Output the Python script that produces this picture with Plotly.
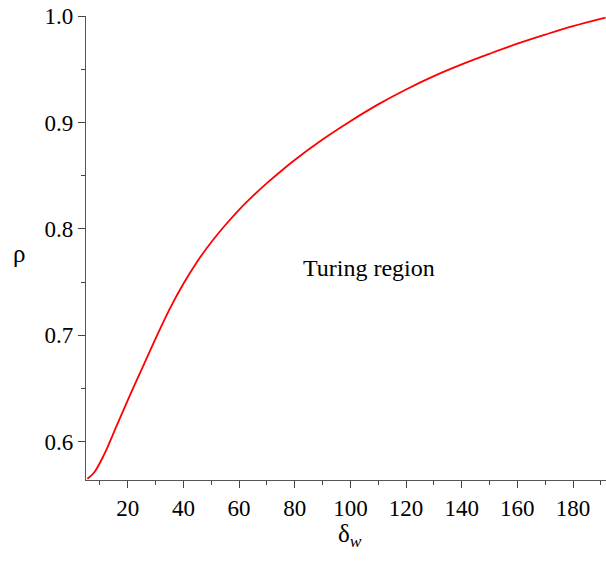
import plotly.graph_objects as go

delta_w = [5.5, 8, 11.5, 16, 21, 25, 30, 35, 40, 45, 50, 55, 60, 65, 70, 80, 90, 100,
           110, 120, 130, 140, 150, 160, 170, 180, 191.7]
rho = [0.5653, 0.5715, 0.588, 0.615, 0.645, 0.668, 0.697, 0.7245, 0.7485, 0.7695, 0.7875,
       0.8035, 0.818, 0.831, 0.843, 0.8648, 0.884, 0.9012, 0.917, 0.931, 0.9435,
       0.9545, 0.9645, 0.974, 0.9825, 0.9905, 0.9985]

x_ticks = [20, 40, 60, 80, 100, 120, 140, 160, 180]
y_ticks = [0.6, 0.7, 0.8, 0.9, 1.0]
y_tick_labels = ["0.6", "0.7", "0.8", "0.9", "1.0"]

FONT = "Times New Roman, Liberation Serif, serif"

fig = go.Figure()
fig.add_trace(go.Scatter(x=delta_w, y=rho, mode="lines",
                         line=dict(color="#ff0000", width=1.8, shape="spline", smoothing=1.0),
                         showlegend=False, hoverinfo="skip"))

axis_common = dict(showgrid=False, zeroline=False, showline=True, linecolor="#555555",
                   linewidth=1.2, ticks="outside", ticklen=7, tickwidth=1.2,
                   tickcolor="#444444", tickfont=dict(family=FONT, size=23, color="#000000"),
                   mirror=False)

W, H = 606, 566
L, R, T, B = 86, 0, 16, 86
pw, ph = W - L - R, H - T - B

def px_to_paper(px, py):
    return (px - L) / pw, (H - B - py) / ph

rx, ry = px_to_paper(11, 253)
dx, dy = px_to_paper(350, 553)

fig.update_layout(
    width=W, height=H,
    margin=dict(l=L, r=R, t=T, b=B),
    paper_bgcolor="white", plot_bgcolor="white",
    font=dict(family=FONT),
    xaxis=dict(range=[5, 191.85], tickvals=x_ticks,
               minor=dict(dtick=10, tick0=0, ticks="outside", ticklen=4,
                          tickcolor="#444444", tickwidth=1.2, showgrid=False),
               **axis_common),
    yaxis=dict(range=[0.5642, 1.0], tickvals=y_ticks, ticktext=y_tick_labels,
               minor=dict(dtick=0.05, tick0=0, ticks="outside", ticklen=4,
                          tickcolor="#444444", tickwidth=1.2, showgrid=False),
               **axis_common),
    annotations=[
        dict(text="Turing region", x=106.6, y=0.763, xref="x", yref="y",
             showarrow=False, font=dict(family=FONT, size=24, color="#000000")),
        dict(text="ρ", x=rx, y=ry, xref="paper", yref="paper", showarrow=False,
             font=dict(family=FONT, size=25, color="#000000")),
        dict(text="δ<sub><i>w</i></sub>", x=dx, y=dy, xref="paper", yref="paper",
             showarrow=False, font=dict(family=FONT, size=25, color="#000000")),
    ],
)

fig.write_html("out.html")
